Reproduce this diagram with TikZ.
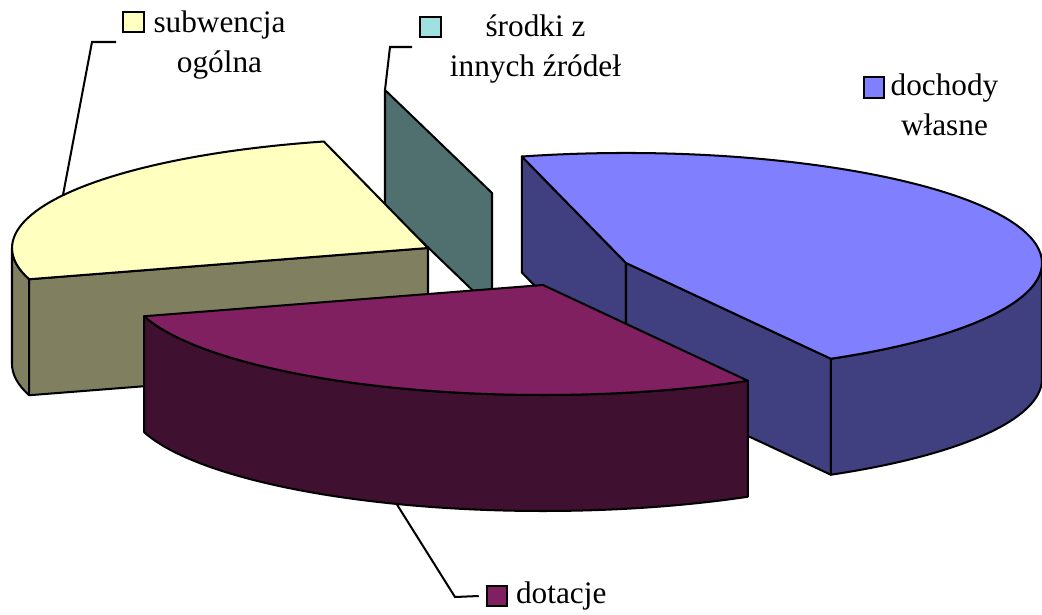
\documentclass[tikz,border=0pt]{standalone}
\usepackage{fontspec}
\setmainfont{Liberation Serif}
\usetikzlibrary{calc,positioning}
\definecolor{ytop}{HTML}{FFFFC0}
\definecolor{yside}{HTML}{808060}
\definecolor{ttop}{HTML}{A0E0E0}
\definecolor{tside}{HTML}{507070}
\definecolor{ptop}{HTML}{8080FF}
\definecolor{pside}{HTML}{404080}
\definecolor{mtop}{HTML}{802060}
\definecolor{mside}{HTML}{401030}

\begin{document}
\begin{tikzpicture}[x=0.02cm, y=-0.02cm,
  every node/.style={font=\fontsize{17.8pt}{22.7pt}\selectfont},
  topface/.style={draw=black, line width=1.15pt, line join=round},
  sideface/.style={draw=black, line width=1.15pt, line join=round},
  legkey/.style={draw=black, line width=1.15pt, minimum size=0.41cm, inner sep=0pt},
  lbltext/.style={align=center, inner sep=0pt},
  leader/.style={draw=black, line width=1.15pt}
]
  \useasboundingbox (0,0) rectangle (1042,615);
  \clip (0,0) rectangle (1042,615);

  % Srodki z innych zrodel (cienki wycinek)
  \coordinate (cteal) at (492,193);
  \coordinate (tA) at (385,90);
  \filldraw[sideface, fill=tside] (tA) -- (cteal) -- ++(0,116) -- ($(tA)+(0,116)$) -- cycle;

  % Subwencja ogolna
  \coordinate (cyel) at (428,248);
  \path (cyel) ++(163.5:416 and 110) coordinate (yA);
  \path (cyel) ++(-104.5:416 and 110) coordinate (yB);
  \filldraw[sideface, fill=yside] (yA) arc[start angle=163.5, end angle=180, x radius=416, y radius=110]
    -- ++(0,116) arc[start angle=180, end angle=163.5, x radius=416, y radius=110] -- cycle;
  \filldraw[sideface, fill=yside] (cyel) -- (yA) -- ++(0,116) -- ($(cyel)+(0,116)$) -- cycle;
  \filldraw[topface, fill=ytop] (cyel) -- (yB)
    arc[start angle=-104.5, end angle=-196.5, x radius=416, y radius=110] -- cycle;

  % Dochody wlasne
  \coordinate (cpur) at (626,263);
  \path (cpur) ++(-104.5:416 and 110) coordinate (pA);
  \path (cpur) ++(60.5:416 and 110) coordinate (pB);
  \filldraw[sideface, fill=pside] (cpur) -- (pA) -- ++(0,116) -- ($(cpur)+(0,116)$) -- cycle;
  \filldraw[sideface, fill=pside] (cpur) -- (pB) -- ++(0,116) -- ($(cpur)+(0,116)$) -- cycle;
  \filldraw[sideface, fill=pside] (pB) arc[start angle=60.5, end angle=0, x radius=416, y radius=110]
    -- ++(0,116) arc[start angle=0, end angle=60.5, x radius=416, y radius=110] -- cycle;
  \filldraw[topface, fill=ptop] (cpur) -- (pA)
    arc[start angle=-104.5, end angle=60.5, x radius=416, y radius=110] -- cycle;

  % Dotacje
  \coordinate (cmag) at (543,285);
  \path (cmag) ++(163.5:416 and 110) coordinate (mA);
  \path (cmag) ++(60.5:416 and 110) coordinate (mB);
  \filldraw[sideface, fill=mside] (mA) arc[start angle=163.5, end angle=60.5, x radius=416, y radius=110]
    -- ++(0,116) arc[start angle=60.5, end angle=163.5, x radius=416, y radius=110] -- cycle;
  \filldraw[topface, fill=mtop] (cmag) -- (mB)
    arc[start angle=60.5, end angle=163.5, x radius=416, y radius=110] -- cycle;

  % Etykiety
  \node[lbltext] (sub) at (219.5,45) {subwencja\\ogólna};
  \node[legkey, fill=ytop] (subkey) at (133.5,22) {};
  \node[lbltext] (srod) at (535.5,49) {środki z\\innych źródeł};
  \node[legkey, fill=ttop] (srodkey) at (430.5,27) {};
  \node[lbltext] (doch) at (944.5,105) {dochody\\własne};
  \node[legkey, fill=ptop] (dochkey) at (874,87.5) {};
  \node[legkey, fill=mtop] (dotkey) at (497,596) {};
  \node[lbltext, right=0.15cm of dotkey] (dot) {dotacje};

  % Linie odniesienia
  \coordinate (subbend) at (92,42);
  \coordinate (subtip) at (63,195);
  \coordinate (srodbend) at (390,47);
  \coordinate (dotbend) at (455,597);
  \coordinate (dottip) at (396,503);
  \draw[leader] ([xshift=-0.12cm]subbend -| subkey.west) -- (subbend) -- (subtip);
  \draw[leader] ([xshift=-0.14cm]srodbend -| srodkey.west) -- (srodbend) -- (tA);
  \draw[leader] ([xshift=-0.14cm]dotkey.west) -- (dotbend) -- (dottip);
\end{tikzpicture}
\end{document}
